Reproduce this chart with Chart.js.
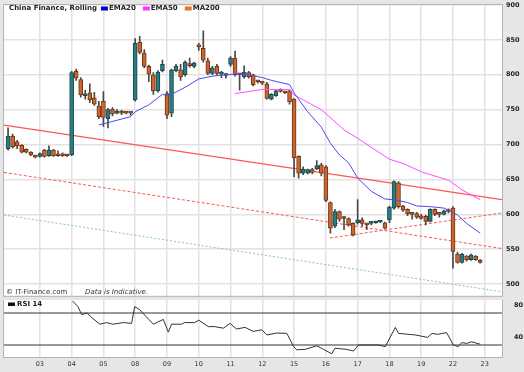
<!DOCTYPE html>
<html>
<head>
<meta charset="utf-8">
<script src="https://cdn.jsdelivr.net/npm/chart.js@4.4.0/dist/chart.umd.min.js"></script>
<style>
  html, body { margin: 0; padding: 0; background: #e6e6e6; }
  #wrap { position: relative; width: 524px; height: 372px; overflow: hidden; }
  #price { position: absolute; left: 0; top: 0; z-index: 2; }
  #rsi { position: absolute; left: 0; top: 295px; z-index: 1; }
</style>
</head>
<body>
<div id="wrap">
  <canvas id="price" width="524" height="300"></canvas>
  <canvas id="rsi" width="524" height="77"></canvas>
</div>
<script>
// x is the candle index, 7 candles per trading day
const dayLabels = ['03', '04', '05', '08', '09', '10', '11', '12', '15', '16', '17', '18', '19', '22', '23'];
const dayStarts = [7, 14, 21, 28, 35, 42, 49, 56, 63, 70, 77, 84, 91, 98, 105];
const xMin = -0.9;
const xMax = 108.8;

const opens = [
  694, 712, 704, 699, 693, 689, 684,
  683, 692, 684, 692, 686, 685, 685,
  685, 805, 793, 770, 774, 767, 755,
  762, 737, 751, 745, 747, 746, 746,
  764, 847, 831, 812, 800, 777, 806,
  773, 745, 806, 807, 800, 816, 812,
  842, 838, 820, 802, 812, 801, 799,
  815, 824, 801, 797, 803, 800, 791,
  789, 787, 765, 770, 777, 775, 777,
  765, 683, 659, 659, 664, 665, 671,
  668, 617, 583, 604, 595, 594, 587,
  588, 592, 586, 587, 588, 589, 588,
  592, 609, 645, 612, 607, 601, 601,
  598, 597, 590, 607, 601, 600, 605,
  609, 543, 531, 540, 535, 540, 534
];
const closes = [
  712, 697, 698, 689, 689, 685, 682,
  687, 683, 692, 684, 684, 684, 684,
  803, 795, 771, 772, 764, 758, 740,
  739, 750, 744, 748, 745, 745, 745,
  845, 832, 812, 801, 777, 804, 815,
  742, 807, 812, 797, 818, 813, 817,
  840, 821, 802, 810, 802, 804, 801,
  824, 800, 800, 804, 797, 786, 790,
  788, 766, 772, 777, 776, 774, 761,
  681, 659, 665, 664, 660, 670, 659,
  620, 580, 604, 593, 594, 585, 570,
  592, 587, 585, 588, 589, 590, 580,
  610, 647, 611, 606, 601, 600, 596,
  594, 590, 607, 600, 600, 605, 604,
  547, 531, 543, 535, 542, 535, 531
];
const highs = [
  724, 715, 706, 700, 694, 690, 685,
  688, 693, 698, 693, 691, 688, 686,
  805, 808, 796, 778, 787, 775, 762,
  776, 752, 753, 750, 749, 747, 746,
  852, 855, 836, 814, 803, 806, 821,
  776, 808, 815, 815, 820, 824, 818,
  845, 863, 824, 812, 815, 805, 802,
  826, 834, 802, 813, 805, 801, 792,
  790, 789, 773, 778, 780, 776, 778,
  766, 684, 668, 665, 666, 677, 673,
  670, 618, 607, 605, 597, 595, 588,
  621, 595, 587, 589, 590, 591, 589,
  612, 648, 647, 613, 608, 602, 603,
  600, 599, 608, 608, 603, 606, 608,
  611, 546, 544, 541, 543, 541, 535
];
const lows = [
  692, 695, 694, 688, 688, 684, 681,
  682, 682, 683, 683, 683, 683, 683,
  684, 792, 768, 765, 760, 756, 737,
  726, 724, 741, 744, 743, 744, 742,
  762, 830, 810, 790, 772, 775, 804,
  737, 740, 804, 792, 798, 811, 810,
  835, 818, 800, 800, 800, 796, 795,
  812, 798, 778, 795, 795, 784, 788,
  786, 765, 764, 769, 775, 773, 758,
  654, 652, 657, 658, 658, 664, 655,
  618, 573, 581, 590, 578, 583, 569,
  586, 583, 578, 585, 587, 588, 579,
  588, 607, 609, 604, 598, 593, 594,
  593, 585, 589, 598, 596, 599, 602,
  523, 530, 530, 533, 534, 534, 530
];

// moving averages (candle index / price)
const ema20X = [20, 27, 28, 31, 34, 35, 36, 39, 42, 45, 48, 50, 53, 56, 58, 62, 63, 66, 69, 71, 73, 75, 77, 80, 83, 85, 88, 90, 93, 96, 97, 99, 101, 104];
const ema20Y = [728, 740, 747, 757, 772, 770, 772, 782, 794, 798, 800, 801, 800, 796, 792, 786, 774, 747, 725, 702, 685, 674, 652, 633, 622, 621, 617, 612, 611, 609, 606, 599, 587, 573];
const ema50X = [50, 56, 62, 63, 69, 74, 77, 84, 87, 91, 97, 100, 104];
const ema50Y = [773, 779, 779, 771, 750, 721, 709, 679, 673, 661, 649, 635, 621];

// trend lines (start / end price)
const trendSolid = [728, 621];
const trendDashDown = [660, 551];
const trendDashUpX = [70.9, xMax];
const trendDashUp = [566, 602];
const trendDotted = [599, 489];

const priceTicks = [900, 850, 800, 750, 700, 650, 600, 550, 500];

// RSI 14
const rsiX = [14.2, 15.4, 16.2, 17.4, 18.7, 20.2, 21.7, 23.1, 25.4, 27.2, 27.9, 29, 30.5, 32, 34.2, 35.3, 36, 38.2, 38.9, 41.1, 42, 44.1, 45.5, 47.4, 48.9, 50.3, 52.2, 54, 55.9, 57, 59.2, 61.4, 62.9, 63.6, 65.4, 68, 69.5, 71.3, 72, 74.6, 76.1, 77.2, 81.6, 83.1, 85.3, 86, 89.8, 92.4, 93.4, 94.6, 96.6, 98.1, 99.2, 99.9, 101, 102.1, 104];
const rsiY = [85, 78, 68, 70, 63, 56, 58, 56, 58, 57, 78, 74, 65, 56, 62, 46, 56, 56, 58, 58, 61, 53, 53, 51, 57, 50, 52, 47, 49, 42.5, 45, 44.5, 28, 24, 24.5, 29, 24.5, 19, 26, 24.5, 22.5, 30, 30, 28, 52, 44.5, 42.5, 39.5, 44.5, 43.3, 45.5, 30, 28, 33, 32, 34, 31];
const rsiLevels = [70, 30];
const rsiTicks = [80, 40];

const legendNames = ['EMA20', 'EMA50', 'MA200'];
const legendColors = ['#0000cc', '#ff33ff', '#e8742a'];

const upFill = '#2b7b7f', upLine = '#17494c';
const downFill = '#cc6630', downLine = '#6e3314';

const FONT = 'DejaVu Sans';
// tiny line height keeps the tick labels from padding the plot area
const axisFont = { family: FONT, size: 6.5, weight: 'bold', lineHeight: 0.05 };

function pts(xs, ys) {
  const out = [];
  for (let i = 0; i < xs.length; i++) out.push({ x: xs[i], y: ys[i] });
  return out;
}

const wickData = [];
const bodyData = [];
const bodyFill = [];
const bodyLine = [];
for (let i = 0; i < opens.length; i++) {
  wickData.push({ x: i, y: [lows[i], highs[i]] });
  bodyData.push({ x: i, y: [opens[i], closes[i]] });
  const up = closes[i] >= opens[i];
  bodyFill.push(up ? upFill : downFill);
  bodyLine.push(up ? upLine : downLine);
}

const framePlugin = {
  id: 'frame',
  beforeDraw(chart) {
    const ctx = chart.ctx, a = chart.chartArea;
    ctx.save();
    ctx.fillStyle = '#e6e6e6';
    ctx.fillRect(0, 0, chart.width, chart.height);
    ctx.fillStyle = '#ffffff';
    ctx.fillRect(a.left, a.top, a.right - a.left, a.bottom - a.top);
    ctx.restore();
  },
  afterDraw(chart) {
    const ctx = chart.ctx, a = chart.chartArea;
    ctx.save();
    ctx.strokeStyle = '#b4b4b4';
    ctx.lineWidth = 1;
    ctx.strokeRect(a.left - 0.5, a.top - 0.5, a.right - a.left + 1, a.bottom - a.top + 1);
    ctx.restore();
  }
};

const priceText = {
  id: 'priceText',
  afterDraw(chart) {
    const ctx = chart.ctx;
    ctx.save();
    ctx.textBaseline = 'middle';
    ctx.fillStyle = '#222';
    ctx.font = 'bold 7px ' + FONT;
    const title = 'China Finance, Rolling';
    ctx.fillText(title, 9, 8.5);
    let x = 9 + ctx.measureText(title).width + 4;
    for (let k = 0; k < legendNames.length; k++) {
      ctx.fillStyle = legendColors[k];
      ctx.fillRect(x, 6.5, 7, 4);
      ctx.fillStyle = '#222';
      ctx.fillText(legendNames[k], x + 8, 8.5);
      x += 8 + ctx.measureText(legendNames[k]).width + 7;
    }
    ctx.fillStyle = '#333';
    ctx.font = '7px ' + FONT;
    ctx.fillText('\u00a9 IT-Finance.com', 6, 292.5);
    ctx.font = 'italic 7px ' + FONT;
    ctx.fillText('Data is Indicative.', 85, 292.5);
    ctx.restore();
  }
};

const rsiText = {
  id: 'rsiText',
  afterDraw(chart) {
    const ctx = chart.ctx;
    ctx.save();
    ctx.fillStyle = '#111';
    ctx.fillRect(8, 7.5, 7, 3.5);
    ctx.textBaseline = 'middle';
    ctx.font = 'bold 7px ' + FONT;
    ctx.fillStyle = '#222';
    ctx.fillText('RSI 14', 17, 9.5);
    ctx.restore();
  }
};

const lineBase = { type: 'line', pointRadius: 0, fill: false, tension: 0 };

new Chart(document.getElementById('price'), {
  type: 'bar',
  data: {
    datasets: [
      Object.assign({}, lineBase, { label: 'EMA20', data: pts(ema20X, ema20Y), borderColor: '#4b4bf0', borderWidth: 1, order: 1 }),
      Object.assign({}, lineBase, { label: 'EMA50', data: pts(ema50X, ema50Y), borderColor: '#ff4cff', borderWidth: 1, order: 1 }),
      { label: 'body', data: bodyData, backgroundColor: bodyFill, borderColor: bodyLine, borderWidth: 1,
        borderSkipped: false, barThickness: 4, minBarLength: 2, grouped: false, order: 3 },
      { label: 'wick', data: wickData, backgroundColor: '#484848', borderWidth: 0,
        barThickness: 1, grouped: false, order: 4 },
      Object.assign({}, lineBase, { label: 'trend', data: pts([xMin, xMax], trendSolid), borderColor: '#ff5555', borderWidth: 1.2, order: 5 }),
      Object.assign({}, lineBase, { label: 'chan1', data: pts([xMin, xMax], trendDashDown), borderColor: '#ff5555', borderWidth: 1, borderDash: [3, 2], order: 5 }),
      Object.assign({}, lineBase, { label: 'chan2', data: pts(trendDashUpX, trendDashUp), borderColor: '#ff5555', borderWidth: 1, borderDash: [3, 2], order: 5 }),
      Object.assign({}, lineBase, { label: 'chan3', data: pts([xMin, xMax], trendDotted), borderColor: '#88cc88', borderWidth: 1, borderDash: [2, 2], order: 5 })
    ]
  },
  options: {
    responsive: false,
    animation: false,
    devicePixelRatio: 1,
    events: [],
    layout: { padding: { left: 4, top: 5, right: 0, bottom: 0 } },
    plugins: { legend: { display: false }, tooltip: { enabled: false } },
    scales: {
      x: {
        type: 'linear', min: xMin, max: xMax, offset: false,
        afterBuildTicks: (s) => { s.ticks = dayStarts.map((v) => ({ value: v })); },
        ticks: { display: false },
        grid: { color: '#e2e2e2', lineWidth: 1.5, drawTicks: false, offset: false },
        border: { display: false },
        afterFit: (s) => { s.height = 0; }
      },
      y: {
        position: 'right', min: 483.2, max: 900,
        afterBuildTicks: (s) => { s.ticks = priceTicks.map((v) => ({ value: v })); },
        ticks: { font: axisFont, color: '#222', padding: 4 },
        grid: { color: '#e2e2e2', lineWidth: 1.5, drawTicks: false },
        border: { display: false },
        afterFit: (s) => { s.width = 22; }
      }
    }
  },
  plugins: [framePlugin, priceText]
});

new Chart(document.getElementById('rsi'), {
  type: 'line',
  data: {
    datasets: [
      Object.assign({}, lineBase, { label: 'RSI 14', data: pts(rsiX, rsiY), borderColor: '#333', borderWidth: 1, order: 1 }),
      Object.assign({}, lineBase, { label: '70', data: pts([xMin, xMax], [rsiLevels[0], rsiLevels[0]]), borderColor: '#333', borderWidth: 1, order: 2 }),
      Object.assign({}, lineBase, { label: '30', data: pts([xMin, xMax], [rsiLevels[1], rsiLevels[1]]), borderColor: '#333', borderWidth: 1, order: 2 })
    ]
  },
  options: {
    responsive: false,
    animation: false,
    devicePixelRatio: 1,
    events: [],
    layout: { padding: { left: 4, top: 5, right: 0, bottom: 0 } },
    plugins: { legend: { display: false }, tooltip: { enabled: false } },
    scales: {
      x: {
        type: 'linear', min: xMin, max: xMax,
        afterBuildTicks: (s) => { s.ticks = dayStarts.map((v) => ({ value: v })); },
        ticks: {
          font: { family: FONT, size: 6.5 }, color: '#333', padding: 3,
          maxRotation: 0, autoSkip: false,
          callback: (v, idx) => dayLabels[idx]
        },
        grid: { color: '#e2e2e2', lineWidth: 1.5, drawTicks: false },
        border: { display: false },
        afterFit: (s) => { s.height = 15; }
      },
      y: {
        position: 'right', min: 15, max: 86.25,
        afterBuildTicks: (s) => { s.ticks = rsiTicks.map((v) => ({ value: v })); },
        ticks: { font: axisFont, color: '#222', padding: 4 },
        grid: { display: false },
        border: { display: false },
        afterFit: (s) => { s.width = 22; }
      }
    }
  },
  plugins: [framePlugin, rsiText]
});
</script>
</body>
</html>
